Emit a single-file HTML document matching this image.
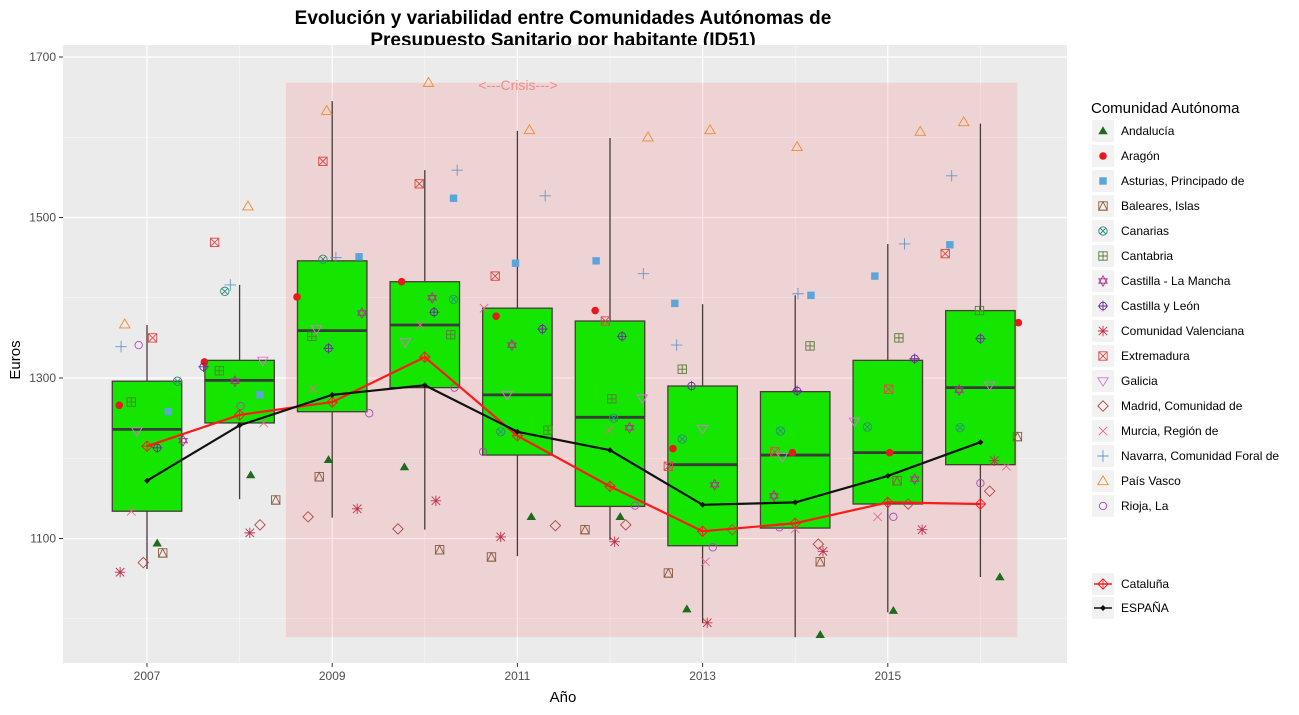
<!DOCTYPE html>
<html><head><meta charset="utf-8">
<style>
body{margin:0;background:#fff;}
svg text{font-family:"Liberation Sans",Arial,sans-serif;}
</style></head>
<body>
<svg id="chart" width="1299" height="710" xmlns="http://www.w3.org/2000/svg">
<rect width="1299" height="710" fill="#fff"/>
<text x="563" y="24" text-anchor="middle" font-size="19" font-weight="bold" fill="#000">Evolución y variabilidad entre Comunidades Autónomas de</text>
<text x="563" y="46" text-anchor="middle" font-size="19" font-weight="bold" fill="#000">Presupuesto Sanitario por habitante (ID51)</text>
<rect x="63" y="45" width="1004" height="618" fill="#ebebeb"/>
<g id="grid"></g>
<g id="crisis"></g>
<g id="boxes"></g>
<g id="points"></g>
<g id="lines"></g>
<g id="axes"></g>
<text x="563" y="702" text-anchor="middle" font-size="15" fill="#000">Año</text>
<text transform="translate(20,360) rotate(-90)" text-anchor="middle" font-size="15" fill="#000">Euros</text>
<g id="legend"></g>
</svg>
<script>
const years=[2007,2008,2009,2010,2011,2012,2013,2014,2015,2016];
const boxQ1=[1134,1244,1258,1288,1204,1140,1091,1113,1143,1192];
const boxMed=[1236,1297,1359,1366,1279,1251,1192,1204,1207,1288];
const boxQ3=[1296,1322,1446,1420,1387,1371,1290,1283,1322,1384];
const boxLo=[1062,1149,1126,1111,1078,1098,995,977,1008,1052];
const boxHi=[1366,1416,1645,1559,1608,1599,1392,1403,1467,1617];
const espana=[1172,1241,1279,1291,1233,1210,1142,1145,1178,1220];
const cataluna=[1215,1254,1270,1326,1228,1165,1109,1119,1145,1143];
const xTicks=[2007,2009,2011,2013,2015];
const yTicks=[1100,1300,1500,1700];
const regions=["Andalucía","Aragón","Asturias, Principado de","Baleares, Islas","Canarias","Cantabria","Castilla - La Mancha","Castilla y León","Comunidad Valenciana","Extremadura","Galicia","Madrid, Comunidad de","Murcia, Región de","Navarra, Comunidad Foral de","País Vasco","Rioja, La"];
const vAndalucia=[1094,1179,1198,1189,1127,1127,1012,980,1010,1052];
const vAragon=[1266,1320,1401,1420,1377,1384,1212,1207,1207,1369];
const vAsturias=[1258,1279,1451,1524,1443,1446,1393,1403,1427,1466];
const vBaleares=[1082,1148,1177,1086,1077,1111,1057,1071,1172,1227];
const vCanarias=[1296,1408,1448,1398,1233,1250,1224,1234,1239,1238];
const vCantabria=[1270,1309,1352,1354,1235,1274,1311,1340,1350,1384];
const vCLM=[1222,1296,1381,1400,1341,1238,1167,1153,1174,1285];
const vCyL=[1213,1314,1337,1382,1361,1352,1290,1284,1324,1349];
const vValencia=[1058,1107,1137,1147,1102,1096,995,1084,1111,1197];
const vExtremadura=[1350,1469,1570,1542,1427,1371,1190,1208,1286,1455];
const vGalicia=[1234,1322,1361,1345,1279,1275,1237,1202,1246,1291];
const vMadrid=[1070,1117,1127,1112,1116,1117,1111,1093,1143,1159];
const vMurcia=[1134,1244,1286,1366,1387,1235,1071,1112,1127,1190];
const vNavarra=[1339,1416,1450,1559,1527,1430,1341,1405,1467,1552];
const vPaisVasco=[1367,1514,1633,1668,1609,1600,1609,1588,1607,1619];
const vRioja=[1341,1265,1256,1288,1208,1141,1089,1114,1127,1169];
const jAndalucia=[.11,.12,-.04,-.22,.15,.11,-.17,.27,.06,.21];
const jAragon=[-.30,-.38,-.38,-.25,-.23,-.16,-.32,-.03,.02,.41];
const jAsturias=[.23,.22,.29,.31,-.02,-.15,-.30,.17,-.14,-.33];
const jBaleares=[.17,.39,-.14,.16,-.28,-.27,-.37,.27,.10,.40];
const jCanarias=[.33,-.16,-.10,.31,-.18,.04,-.22,-.16,-.22,-.22];
const jCantabria=[-.17,-.22,-.22,.28,.33,.02,-.22,.16,.12,-.01];
const jCLM=[.39,-.05,.32,.08,-.06,.21,.13,-.23,.29,-.23];
const jCyL=[.11,-.39,-.04,.10,.27,.13,-.12,.02,.29,0];
const jValencia=[-.29,.11,.27,.12,-.18,.05,.05,.30,.37,.15];
const jExtremadura=[.06,-.27,-.10,-.06,-.24,-.05,-.37,-.22,.01,-.38];
const jGalicia=[-.11,.25,-.17,-.21,-.11,.35,0,-.14,-.36,.10];
const jMadrid=[-.04,.22,-.26,-.29,.41,.17,.32,.25,.22,.10];
const jMurcia=[-.17,.26,-.21,-.05,-.36,-.01,.03,0,-.11,.28];
const jNavarra=[-.28,-.10,.04,.35,.30,.36,-.28,.03,.18,-.31];
const jPaisVasco=[-.24,.09,-.06,.04,.13,.41,.08,.02,.35,-.18];
const jRioja=[-.09,.01,.40,.32,-.37,.27,.11,-.17,.06,0];

const vals=[vAndalucia,vAragon,vAsturias,vBaleares,vCanarias,vCantabria,vCLM,vCyL,vValencia,vExtremadura,vGalicia,vMadrid,vMurcia,vNavarra,vPaisVasco,vRioja];
const jits=[jAndalucia,jAragon,jAsturias,jBaleares,jCanarias,jCantabria,jCLM,jCyL,jValencia,jExtremadura,jGalicia,jMadrid,jMurcia,jNavarra,jPaisVasco,jRioja];
const colors=["#1d6b1d","#e8181c","#5aa5dc","#8b5a3c","#2e8b7a","#5a7a3a","#b0308f","#6a2a9a","#c0304a","#e04848","#e070e0","#b04848","#e86a8a","#6a94c8","#f08a30","#a848b8"];
const shapes=["tri","dot","sq","sqtri","cx","sqplus","david","cplus","ast","sqx","dtri","diam","x","plus","otri","ocirc"];

const NS="http://www.w3.org/2000/svg";
const X=yr=>147+(yr-2007)*92.6;
const Y=v=>57+(1700-v)*0.8025;
function mk(tag,attrs,parent){const e=document.createElementNS(NS,tag);for(const k in attrs)e.setAttribute(k,attrs[k]);parent.appendChild(e);return e;}
const $=id=>document.getElementById(id);

// grid
const g=$("grid");
[1000,1200,1400,1600].forEach(v=>{const l=mk("line",{x1:63,x2:1067,y1:Y(v),y2:Y(v),stroke:"#fafafa","stroke-width":0.6},g);});
[2008,2010,2012,2014,2016].forEach(v=>{const l=mk("line",{x1:X(v),x2:X(v),y1:45,y2:663,stroke:"#fafafa","stroke-width":0.6},g);});
yTicks.forEach(v=>{const l=mk("line",{x1:63,x2:1067,y1:Y(v),y2:Y(v),stroke:"#fff","stroke-width":1.2},g);});
xTicks.forEach(v=>{const l=mk("line",{x1:X(v),x2:X(v),y1:45,y2:663,stroke:"#fff","stroke-width":1.2},g);});

// crisis
const c=$("crisis");
const cr=mk("rect",{x:X(2008.5),y:Y(1668),width:X(2016.4)-X(2008.5),height:Y(977)-Y(1668),fill:"rgb(255,0,0)","fill-opacity":0.1},c);


const ct=mk("text",{x:518,y:90,"text-anchor":"middle","font-size":14,fill:"#f08a8a"},c);
ct.textContent="<---Crisis--->";



// boxes
const b=$("boxes");
years.forEach((yr,i)=>{
 const gg=mk("g",{},b);
 
 
 const cx=X(yr),hw=0.375*92.6;
 mk("line",{x1:cx,x2:cx,y1:Y(boxHi[i]),y2:Y(boxQ3[i]),stroke:"#4a3a3a","stroke-width":1.3},gg);
 mk("line",{x1:cx,x2:cx,y1:Y(boxQ1[i]),y2:Y(boxLo[i]),stroke:"#4a3a3a","stroke-width":1.3},gg);
 mk("rect",{x:cx-hw,y:Y(boxQ3[i]),width:2*hw,height:Y(boxQ1[i])-Y(boxQ3[i]),fill:"#14e600",stroke:"#4a3a3a","stroke-width":1.3},gg);
 mk("line",{x1:cx-hw,x2:cx+hw,y1:Y(boxMed[i]),y2:Y(boxMed[i]),stroke:"#3a3a3a","stroke-width":2.8},gg);
});

function shape(kind,x,y,col,parent){
 const s=4.2, gg=mk("g",{fill:"none",stroke:col,"stroke-width":0.9},parent);
 switch(kind){
 case "tri":mk("polygon",{points:`${x},${y-s-0.5} ${x-s-0.5},${y+s-1} ${x+s+0.5},${y+s-1}`,fill:col,stroke:"none"},gg);break;
 case "dot":mk("circle",{cx:x,cy:y,r:s-0.4,fill:col,stroke:"none"},gg);break;
 case "sq":mk("rect",{x:x-s+0.5,y:y-s+0.5,width:2*s-1,height:2*s-1,fill:col,stroke:"none"},gg);break;
 case "sqtri":mk("rect",{x:x-s,y:y-s,width:2*s,height:2*s},gg);mk("polygon",{points:`${x},${y-s} ${x-s},${y+s} ${x+s},${y+s}`},gg);break;
 case "cx":mk("circle",{cx:x,cy:y,r:s},gg);mk("path",{d:`M${x-3},${y-3}L${x+3},${y+3}M${x-3},${y+3}L${x+3},${y-3}`},gg);break;
 case "sqplus":mk("rect",{x:x-s,y:y-s,width:2*s,height:2*s},gg);mk("path",{d:`M${x-s},${y}H${x+s}M${x},${y-s}V${y+s}`},gg);break;
 case "david":mk("polygon",{points:`${x},${y-s-1} ${x-s},${y+s-2} ${x+s},${y+s-2}`},gg);mk("polygon",{points:`${x},${y+s+1} ${x-s},${y-s+2} ${x+s},${y-s+2}`},gg);break;
 case "cplus":mk("circle",{cx:x,cy:y,r:s-0.5},gg);mk("path",{d:`M${x-s-1},${y}H${x+s+1}M${x},${y-s-1}V${y+s+1}`},gg);break;
 case "ast":mk("path",{d:`M${x-s-1},${y}H${x+s+1}M${x},${y-s-1}V${y+s+1}M${x-s},${y-s}L${x+s},${y+s}M${x-s},${y+s}L${x+s},${y-s}`},gg);break;
 case "sqx":mk("rect",{x:x-s,y:y-s,width:2*s,height:2*s},gg);mk("path",{d:`M${x-s},${y-s}L${x+s},${y+s}M${x-s},${y+s}L${x+s},${y-s}`},gg);break;
 case "dtri":mk("polygon",{points:`${x},${y+s+1} ${x-s-1},${y-s+1} ${x+s+1},${y-s+1}`},gg);break;
 case "diam":mk("polygon",{points:`${x},${y-s-1} ${x+s+1},${y} ${x},${y+s+1} ${x-s-1},${y}`},gg);break;
 case "x":mk("path",{d:`M${x-s},${y-s}L${x+s},${y+s}M${x-s},${y+s}L${x+s},${y-s}`},gg);break;
 case "plus":mk("path",{d:`M${x-s-1.5},${y}H${x+s+1.5}M${x},${y-s-1.5}V${y+s+1.5}`},gg);break;
 case "otri":mk("polygon",{points:`${x},${y-s-1} ${x-s-1},${y+s-0.5} ${x+s+1},${y+s-0.5}`},gg);break;
 case "ocirc":mk("circle",{cx:x,cy:y,r:s-0.5},gg);break;
 case "dplus":mk("polygon",{points:`${x},${y-s-1} ${x+s+1},${y} ${x},${y+s+1} ${x-s-1},${y}`},gg);mk("path",{d:`M${x-s-1},${y}H${x+s+1}M${x},${y-s-1}V${y+s+1}`},gg);break;
 case "bdiam":mk("polygon",{points:`${x},${y-3} ${x+3},${y} ${x},${y+3} ${x-3},${y}`,fill:col,stroke:"none"},gg);break;
 }
 return gg;
}

// points
const p=$("points");
vals.forEach((arr,r)=>{
 arr.forEach((v,i)=>{
  const e=shape(shapes[r],X(years[i]+jits[r][i]),Y(v),colors[r],p);
  
  
 });
});

// lines
const L=$("lines");
function series(arr,col,kind,name){
 const pl=mk("polyline",{points:arr.map((v,i)=>X(years[i])+","+Y(v)).join(" "),fill:"none",stroke:col,"stroke-width":2.2},L);
 
 
 arr.forEach((v,i)=>{const e=shape(kind,X(years[i]),Y(v),col,L);});
}
series(cataluna,"#ff1a1a","dplus","cataluna");
series(espana,"#111","bdiam","espana");

// axes
const A=$("axes");
xTicks.forEach(v=>{
 const t=mk("line",{x1:X(v),x2:X(v),y1:663,y2:667,stroke:"#333"},A);
 
 
 const tx=mk("text",{x:X(v),y:680,"text-anchor":"middle","font-size":12,fill:"#4d4d4d"},A);
 tx.textContent=v;
 
 
});
yTicks.forEach(v=>{
 const t=mk("line",{x1:59,x2:63,y1:Y(v),y2:Y(v),stroke:"#333"},A);
 
 
 const tx=mk("text",{x:56,y:Y(v)+4,"text-anchor":"end","font-size":12,fill:"#4d4d4d"},A);
 tx.textContent=v;
 
 
});

// legend
const G=$("legend");
const lt=mk("text",{x:1091,y:113,"font-size":15,fill:"#000"},G);
lt.textContent="Comunidad Autónoma";


regions.forEach((n,r)=>{
 const y=131+r*25;
 const k=mk("rect",{x:1092,y:y-11,width:22,height:22,fill:"#f2f2f2"},G);
 
 
 shape(shapes[r],1103,y,colors[r],G);
 const t=mk("text",{x:1121,y:y+4,"font-size":12,fill:"#000"},G);
 t.textContent=n;
 
 
});
[["Cataluña","#ff1a1a","dplus",584],["ESPAÑA","#111","bdiam",608]].forEach(d=>{
 const k=mk("rect",{x:1092,y:d[3]-11,width:22,height:22,fill:"#f2f2f2"},G);
 
 
 mk("line",{x1:1094,x2:1112,y1:d[3],y2:d[3],stroke:d[1],"stroke-width":1.5},G);
 shape(d[2],1103,d[3],d[1],G);
 const t=mk("text",{x:1121,y:d[3]+4,"font-size":12,fill:"#000"},G);
 t.textContent=d[0];
 
 
});
</script>
</body></html>
